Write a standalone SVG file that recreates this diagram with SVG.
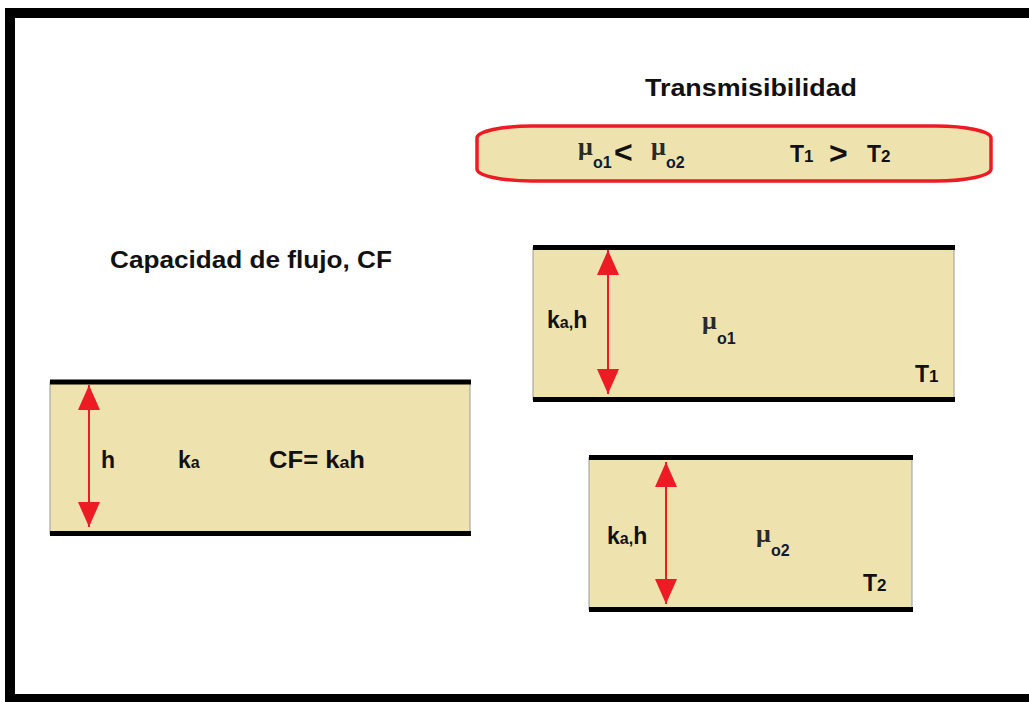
<svg xmlns="http://www.w3.org/2000/svg" width="1029" height="702" viewBox="0 0 1029 702">
<style>
.t{font-family:"Liberation Sans",Arial,sans-serif;font-weight:bold;fill:#111;}
.mu{font-family:"Liberation Serif","DejaVu Serif",serif;font-weight:bold;fill:#2a2a2a;}
.sub{font-family:"Liberation Sans",Arial,sans-serif;font-weight:bold;fill:#0d1b33;}
.box{fill:#EEE3AF;stroke:#999;stroke-width:1;}
.edge{stroke:#000;stroke-width:5;}
.arr{stroke:#ED1C24;stroke-width:2;fill:none;marker-start:url(#ah);marker-end:url(#ah);}
</style>
<defs>
<marker id="ah" markerUnits="userSpaceOnUse" markerWidth="25" markerHeight="22" refX="25" refY="11" orient="auto-start-reverse" viewBox="0 0 25 22">
<path d="M0,0 L25,11 L0,22 Z" fill="#ED1C24"/>
</marker>
</defs>
<rect x="0" y="0" width="1029" height="702" fill="#fff"/>
<rect x="10" y="13" width="1040" height="686" fill="none" stroke="#000" stroke-width="10"/>

<g id="title">
<text class="t" x="645" y="96" font-size="23" textLength="212" lengthAdjust="spacingAndGlyphs">Transmisibilidad</text>
</g>
<g id="cf-title">
<text class="t" x="110" y="268" font-size="24" textLength="282" lengthAdjust="spacingAndGlyphs">Capacidad de flujo, CF</text>
</g>

<g id="relation">
<rect x="477" y="126" width="514" height="55" rx="55" ry="12" fill="#EEE3AF" stroke="#ED1C24" stroke-width="3.5"/>
<text class="mu" x="578" y="155" font-size="26">μ</text>
<text class="sub" x="593" y="168" font-size="16">o1</text>
<text class="t" x="614" y="163" font-size="32">&lt;</text>
<text class="mu" x="651" y="155" font-size="26">μ</text>
<text class="sub" x="666" y="168" font-size="16">o2</text>
<text class="t" x="790" y="162" font-size="23">T<tspan font-size="17">1</tspan></text>
<text class="t" x="829" y="164" font-size="32">&gt;</text>
<text class="t" x="867" y="162" font-size="23">T<tspan font-size="17">2</tspan></text>
</g>

<g id="box-cf">
<rect class="box" x="50" y="382" width="420" height="152"/>
<line class="edge" x1="50" y1="382" x2="471" y2="382"/>
<line class="edge" x1="50" y1="533.5" x2="471" y2="533.5"/>
<text class="t" x="101" y="468" font-size="23">h</text>
<text class="t" x="178" y="468" font-size="23">k<tspan font-size="16">a</tspan></text>
<text class="t" x="269" y="468" font-size="23" textLength="96" lengthAdjust="spacingAndGlyphs">CF= k<tspan font-size="16">a</tspan>h</text>
</g>

<g id="box-t1">
<rect class="box" x="533" y="247.5" width="421" height="152"/>
<line class="edge" x1="533" y1="247.5" x2="955" y2="247.5"/>
<line class="edge" x1="533" y1="399.5" x2="955" y2="399.5"/>
<text class="t" x="547" y="328" font-size="23">k<tspan font-size="16">a,</tspan>h</text>
<text class="mu" x="702" y="329" font-size="26">μ</text>
<text class="sub" x="717" y="344" font-size="16">o1</text>
<text class="t" x="915" y="382" font-size="23">T<tspan font-size="17">1</tspan></text>
</g>

<g id="box-t2">
<rect class="box" x="589" y="457.5" width="323" height="152"/>
<line class="edge" x1="589" y1="457.5" x2="913" y2="457.5"/>
<line class="edge" x1="589" y1="609.5" x2="913" y2="609.5"/>
<text class="t" x="607" y="544" font-size="23">k<tspan font-size="16">a,</tspan>h</text>
<text class="mu" x="756" y="542" font-size="26">μ</text>
<text class="sub" x="771" y="556" font-size="16">o2</text>
<text class="t" x="863" y="591" font-size="23">T<tspan font-size="17">2</tspan></text>
</g>

<g id="connectors">
<path class="arr" d="M89,385 L89,527"/>
<path class="arr" d="M608,250 L608,394"/>
<path class="arr" d="M666,462 L666,604"/>
</g>
</svg>
